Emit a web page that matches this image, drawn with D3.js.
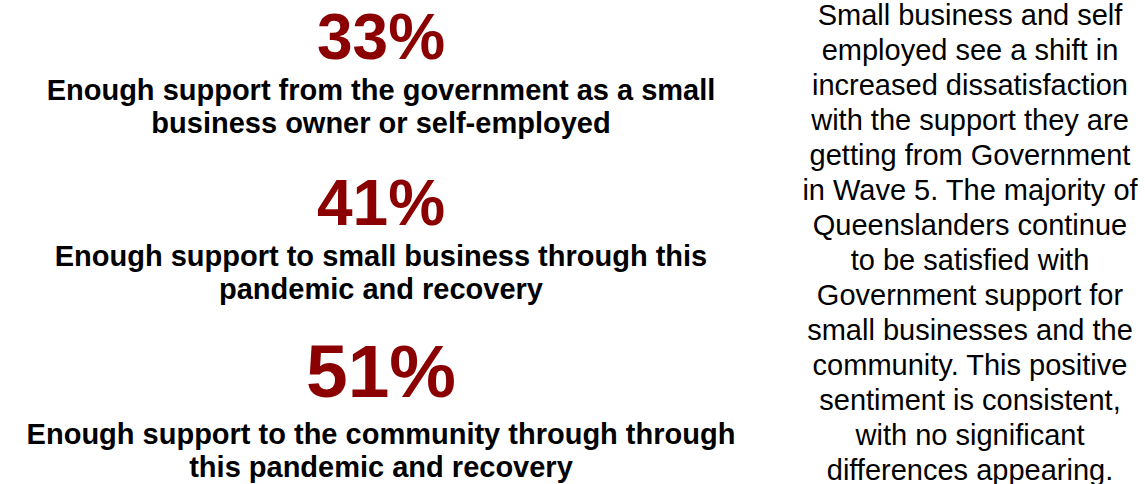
<!DOCTYPE html>
<html>
<head>
<meta charset="utf-8">
<script src="https://cdn.jsdelivr.net/npm/d3@7"></script>
<style>
  html, body { margin: 0; padding: 0; background: #fff; }
  text { font-family: "Liberation Sans", Arial, sans-serif; }
</style>
</head>
<body>
<div id="chart"></div>
<script>
// values shown as big figures
var statValues = [33, 41, 51];

// caption under each figure, one entry per line
var statLabels = [
  ["Enough support from the government as a small", "business owner or self-employed"],
  ["Enough support to small business through this", "pandemic and recovery"],
  ["Enough support to the community through through", "this pandemic and recovery"]
];

// commentary on the right, already broken into lines
var commentLines = [
  "Small business and self",
  "employed see a shift in",
  "increased dissatisfaction",
  "with the support they are",
  "getting from Government",
  "in Wave 5. The majority of",
  "Queenslanders continue",
  "to be satisfied with",
  "Government support for",
  "small businesses and the",
  "community. This positive",
  "sentiment is consistent,",
  "with no significant",
  "differences appearing."
];

var width = 1145, height = 484;

var svg = d3.select("#chart").append("svg")
    .attr("width", width)
    .attr("height", height);

// left column: figure baselines
var leftX = 381;
var blockY = d3.scaleOrdinal()
    .domain(d3.range(statValues.length))
    .range([59, 225, 397]);

// the last figure is drawn bigger than the others
var figSize = [64, 64, 75];
var labelGap = [41, 41, 47];

var blocks = svg.selectAll("g.block")
    .data(statValues)
    .enter()
    .append("g")
    .attr("class", "block")
    .attr("transform", function(d, i) { return "translate(" + leftX + "," + blockY(i) + ")"; });

blocks.append("text")
    .attr("text-anchor", "middle")
    .style("font-weight", "bold")
    .style("font-size", function(d, i) { return figSize[i] + "px"; })
    .style("fill", "#8b0000")
    .text(function(d) { return d + "%"; });

blocks.each(function(d, i) {
  var g = d3.select(this);
  g.selectAll("text.label")
    .data(statLabels[i])
    .enter()
    .append("text")
    .attr("class", "label")
    .attr("text-anchor", "middle")
    .attr("y", function(t, j) { return labelGap[i] + j * 33; })
    .style("font-weight", "bold")
    .style("font-size", "29px")
    .style("fill", "#000")
    .text(function(t) { return t; });
});

// right column
var lineY = d3.scaleLinear()
    .domain([0, commentLines.length - 1])
    .range([25, 480]);

svg.selectAll("text.comment")
    .data(commentLines)
    .enter()
    .append("text")
    .attr("class", "comment")
    .attr("x", 970)
    .attr("y", function(d, i) { return lineY(i); })
    .attr("text-anchor", "middle")
    .style("font-size", "29px")
    .style("fill", "#000")
    .text(function(d) { return d; });
</script>
</body>
</html>
